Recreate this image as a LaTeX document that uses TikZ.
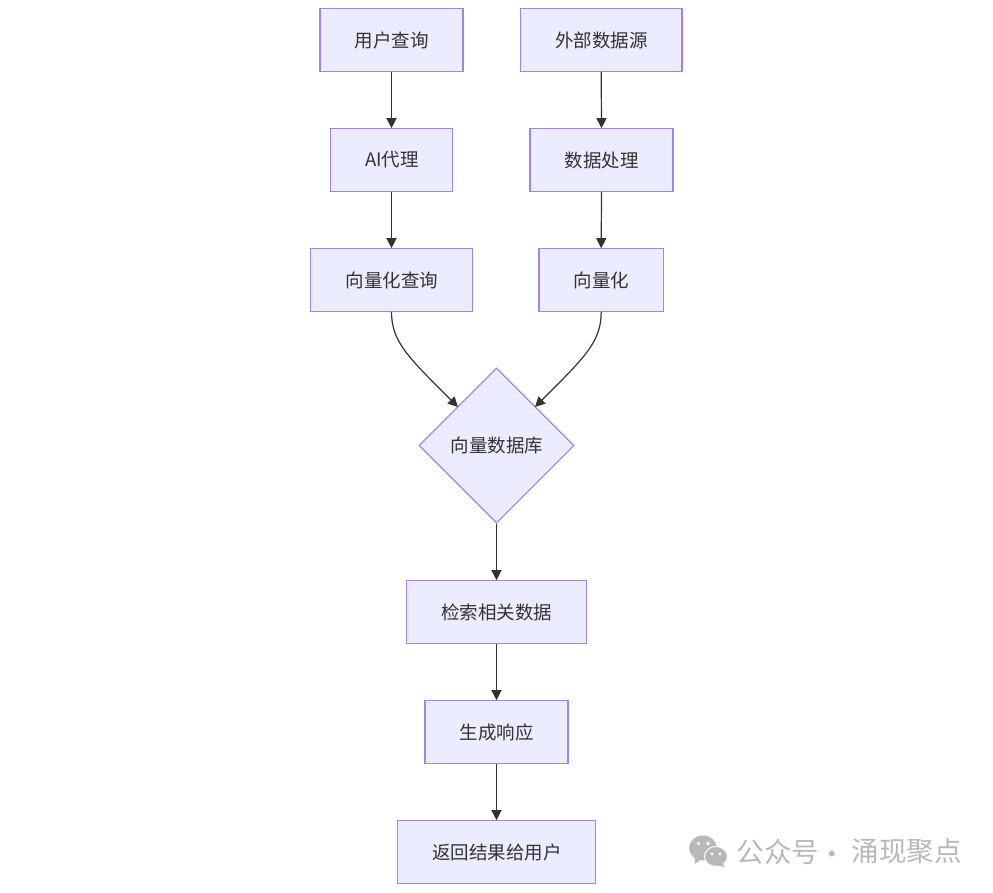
\documentclass[tikz,border=0pt]{standalone}
\usepackage{fontspec}
\setmainfont{Noto Sans CJK SC}
\usetikzlibrary{arrows.meta,shapes.geometric}
\definecolor{nodefill}{HTML}{ECECFF}
\definecolor{nodeline}{HTML}{A384E4}
\definecolor{ink}{HTML}{333333}
\definecolor{wmgray}{HTML}{B8B8B8}
\tikzset{
  box/.style={rectangle,draw=nodeline,fill=nodefill,line width=1.1pt,text=ink,minimum height=62.5pt,inner sep=0pt,font=\fontsize{18.5pt}{22pt}\selectfont,anchor=center},
  rhomb/.style={diamond,shape aspect=1,draw=nodeline,fill=nodefill,line width=1.1pt,text=ink,minimum size=155pt,inner sep=0pt,font=\fontsize{18.5pt}{22pt}\selectfont},
  link/.style={draw=ink,line width=1.2pt,-{Triangle[length=10pt,width=10pt]}},
  wm/.style={text=wmgray,font=\fontsize{27.5pt}{32pt}\selectfont,inner sep=0pt},
}
\begin{document}
\begin{tikzpicture}[x=1pt,y=-1pt]
\useasboundingbox (0,0) rectangle (993,892);
\node[box,minimum width=143pt] (user) at (391.5,40) {\hspace{.8pt}用户查询};
\node[box,minimum width=161.5pt] (ext) at (601.2,40) {\hspace{.8pt}外部数据源};
\node[box,minimum width=122pt] (agent) at (391.5,160) {\hspace{.8pt}AI代理};
\node[box,minimum width=143pt] (proc) at (601.5,160) {\hspace{.8pt}数据处理};
\node[box,minimum width=161.5pt] (vq) at (391.5,280) {\hspace{.8pt}向量化查询};
\node[box,minimum width=124.5pt] (vec) at (601.2,280) {\hspace{.8pt}向量化};
\node[rhomb] (db) at (496.5,445.5) {\hspace{.8pt}向量数据库};
\node[box,minimum width=179.5pt] (ret) at (496.5,612) {\hspace{.8pt}检索相关数据};
\node[box,minimum width=143pt] (gen) at (496.5,732) {\hspace{.8pt}生成响应};
\node[box,minimum width=198.5pt] (back) at (496.5,852) {\hspace{.8pt}返回结果给用户};

\draw[link] (user.south) -- (agent.north);
\draw[link] (agent.south) -- (vq.north);
\draw[link] (ext.south) -- (proc.north);
\draw[link] (proc.south) -- (vec.north);
\draw[link] (vq.south) .. controls +(0,30) and +(-50,-50) .. ([shift={(.5,.5)}]db.north west);
\draw[link] (vec.south) .. controls +(0,30) and +(50,-50) .. ([shift={(-.5,.5)}]db.north east);
\draw[link] (db.south) -- (ret.north);
\draw[link] (ret.south) -- (gen.north);
\draw[link] (gen.south) -- (back.north);

% watermark
\fill[wmgray] (703,848) ellipse [x radius=14pt,y radius=12.5pt];
\fill[wmgray] (695,857) -- (694.5,864) -- (702,859) -- cycle;
\fill[wmgray,draw=white,line width=1pt] (716,856.5) ellipse [x radius=11.5pt,y radius=10pt];
\fill[wmgray] (722,863) -- (725,867.5) -- (717,865) -- cycle;
\fill[white] (698.5,843.5) circle (1.9pt) (708,843.5) circle (1.9pt) (712,854) circle (1.6pt) (720,854) circle (1.6pt);
\node[wm,anchor=west] (wmtext) at (736.5,851.5) {公众号};
\node[wm,anchor=center] (wmdot) at (832.5,858) {·};
\node[wm,anchor=west] (wmname) at (851.5,851.5) {涌现聚点};
\end{tikzpicture}
\end{document}
